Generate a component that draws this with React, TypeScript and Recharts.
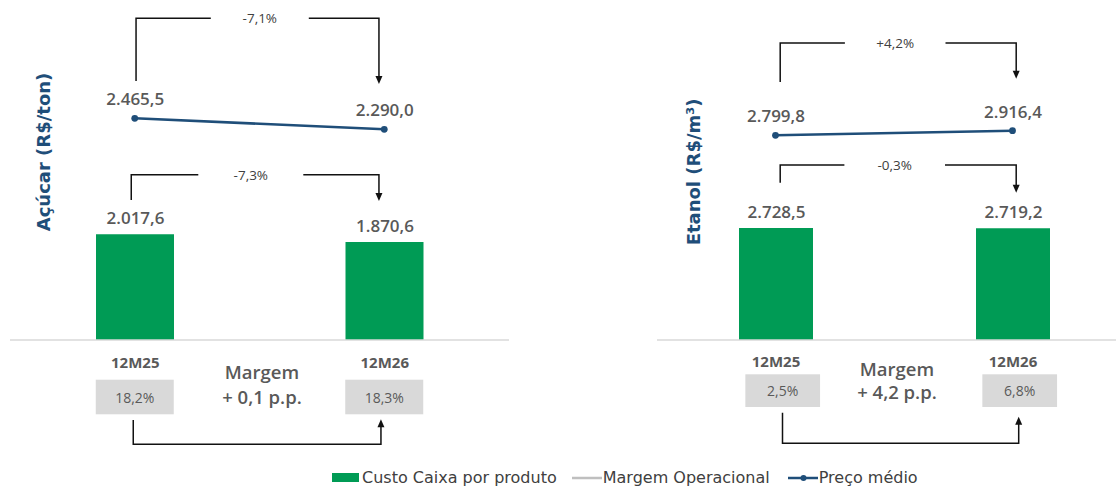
import React from 'react';
import { ComposedChart, Bar, Line, XAxis, YAxis, LabelList } from 'recharts';

const categories = ['12M25', '12M26'];
const acucarCusto = [2017.6, 1870.6];
const acucarPreco = [2465.5, 2290.0];
const acucarMargem = [18.2, 18.3];
const acucarVariacao = ['-7,1%', '-7,3%', '+ 0,1 p.p.']; // preço, custo, margem
const etanolCusto = [2728.5, 2719.2];
const etanolPreco = [2799.8, 2916.4];
const etanolMargem = [2.5, 6.8];
const etanolVariacao = ['+4,2%', '-0,3%', '+ 4,2 p.p.'];
const seriesNames = ['Custo Caixa por produto', 'Margem Operacional', 'Preço médio'];

const GREEN = '#009B55';
const NAVY = '#1F4E79';
const LABEL = '#595959';
const DARK = '#404040';
const BOX = '#D9D9D9';
const NUM_FONT = '"Open Sans", sans-serif';
const TEXT_FONT = '"DejaVu Sans", sans-serif';

const fmt = (v: number) => {
  const [i, d] = v.toFixed(1).split('.');
  return i.replace(/\B(?=(\d{3})+(?!\d))/g, '.') + ',' + d;
};
const fmtPct = (v: number) => v.toFixed(1).replace('.', ',') + '%';

// annotation geometry per panel (chart-local coordinates)
const acucarGeo = {
  left: 0, width: 558,
  margin: { top: 20, right: 49, left: 10, bottom: 116 },
  barSize: 78, barMax: 6109, priceDomain: [-1070, 4033],
  title: 'Açúcar (R$/ton)', titleX: 43.7, titleY: 152,
  price: { dx0: 1.3, y0: 81, top: 18.3, textDx: 0.3, half: 49, dx1: -5.3, y1: 84 },
  cost: { dx0: -3.5, y0: 200, top: 174.7, textDx: -8.7, half: 52.5, dx1: -5.3, y1: 201 },
  catY: 361.7, boxTop: 379.7, boxH: 34.6, boxW: 78, boxDx: 0,
  margemDx: 2.5, margemY: 371.7, ppY: 396,
  arrow: { dx0: -1.5, y0: 420, bottom: 444.3, dx1: -3.3, y1: 419.3 },
};

const etanolGeo = {
  left: 556, width: 580,
  margin: { top: 20, right: 5, left: 101, bottom: 116 },
  barSize: 74, barMax: 7795, priceDomain: [-2389, 5723],
  title: 'Etanol (R$/m³)', titleX: 694.3, titleY: 171.7,
  price: { dx0: 4.7, y0: 82, top: 43, textDx: 1.2, half: 50.3, dx1: 3.7, y1: 78.7 },
  cost: { dx0: 4.7, y0: 182.7, top: 165, textDx: 0.7, half: 50.3, dx1: 3.7, y1: 192.7 },
  catY: 361, boxTop: 374.3, boxH: 32.7, boxW: 74.7, boxDx: 7.2,
  margemDx: 3, margemY: 368.3, ppY: 391.7,
  arrow: { dx0: 7, y0: 412.7, bottom: 443.3, dx1: 6.2, y1: 416.7 },
};

type Geo = typeof acucarGeo;

const Bracket = ({ x0, x1, b, label }: any) => {
  const mid = (x0 + x1) / 2 + b.textDx;
  const vx = x0 + b.dx0;
  const ax = x1 + b.dx1;
  return (
    <g>
      <path
        d={`M${vx},${b.y0}V${b.top}H${mid - b.half}M${mid + b.half},${b.top}H${ax}V${b.y1 - 7}`}
        stroke="#111" strokeWidth={1.5} fill="none"
      />
      <polygon points={`${ax - 3.5},${b.y1 - 8} ${ax + 3.5},${b.y1 - 8} ${ax},${b.y1}`} fill="#111" />
      <text x={mid} y={b.top} textAnchor="middle" dominantBaseline="central"
        fontFamily={NUM_FONT} fontSize={13.5} fill={DARK}>
        {label}
      </text>
    </g>
  );
};

const makePriceDot = (geo: Geo, label: string) => (props: any) => {
  const { cx, cy, index, payload, points } = props;
  return (
    <g key={`pd-${index}`}>
      <circle cx={cx} cy={cy} r={3.4} fill={NAVY} />
      <text x={cx + 0.5} y={cy - 19.5} textAnchor="middle" dominantBaseline="central"
        fontFamily={NUM_FONT} fontWeight={600} fontSize={17} fill={LABEL}>
        {fmt(payload.preco)}
      </text>
      {index === 1 && points && points.length > 1 && (
        <Bracket x0={points[0].x} x1={points[1].x} b={geo.price} label={label} />
      )}
    </g>
  );
};

// invisible helper over the bar tops: draws the cost bracket and the margin arrow
const makeCostDot = (geo: Geo, labels: string[]) => (props: any) => {
  const { index, points } = props;
  if (index !== 1 || !points || points.length < 2) return <g key={`cd-${index}`} />;
  const x0 = points[0].x;
  const x1 = points[1].x;
  const mid = (x0 + x1) / 2 + geo.margemDx;
  const a = geo.arrow;
  const ax0 = x0 + a.dx0;
  const ax1 = x1 + a.dx1;
  return (
    <g key={`cd-${index}`}>
      <Bracket x0={x0} x1={x1} b={geo.cost} label={labels[1]} />
      <text x={mid} y={geo.margemY} textAnchor="middle" dominantBaseline="central"
        fontFamily={NUM_FONT} fontWeight={600} fontSize={18.5} fill={LABEL}>
        Margem
      </text>
      <text x={mid} y={geo.ppY} textAnchor="middle" dominantBaseline="central"
        fontFamily={NUM_FONT} fontWeight={600} fontSize={18.5} fill={LABEL}>
        {labels[2]}
      </text>
      <path d={`M${ax0},${a.y0}V${a.bottom}H${ax1}V${a.y1 + 7}`} stroke="#111" strokeWidth={1.5} fill="none" />
      <polygon points={`${ax1 - 3.5},${a.y1 + 8} ${ax1 + 3.5},${a.y1 + 8} ${ax1},${a.y1}`} fill="#111" />
    </g>
  );
};

const makeTick = (geo: Geo, margens: number[]) => (props: any) => {
  const { x, index, payload } = props;
  const bx = x + geo.boxDx;
  return (
    <g key={`t-${index}`}>
      <text x={x + 0.5} y={geo.catY} textAnchor="middle" dominantBaseline="central"
        fontFamily={NUM_FONT} fontWeight={700} fontSize={15} fill={LABEL}>
        {payload.value}
      </text>
      <rect x={bx - geo.boxW / 2} y={geo.boxTop} width={geo.boxW} height={geo.boxH} fill={BOX} />
      <text x={bx} y={geo.boxTop + geo.boxH / 2} textAnchor="middle" dominantBaseline="central"
        fontFamily={NUM_FONT} fontSize={14} fill={LABEL}>
        {fmtPct(margens[index])}
      </text>
    </g>
  );
};

const Panel = ({ geo, custo, preco, margem, variacao }: {
  geo: Geo; custo: number[]; preco: number[]; margem: number[]; variacao: string[];
}) => {
  const data = categories.map((name, i) => ({ name, custo: custo[i], preco: preco[i] }));
  return (
    <div style={{ position: 'absolute', left: geo.left, top: 0 }}>
      <ComposedChart width={geo.width} height={486} data={data} margin={geo.margin}>
        <XAxis dataKey="name" xAxisId={0} height={30} interval={0} tickLine={false}
          axisLine={{ stroke: '#D9D9D9', strokeWidth: 1.5 }}
          tick={makeTick(geo, margem)} />
        <YAxis yAxisId="bar" hide domain={[0, geo.barMax]} />
        <YAxis yAxisId="preco" hide domain={geo.priceDomain as [number, number]} />
        <Bar dataKey="custo" yAxisId="bar" fill={GREEN} barSize={geo.barSize} isAnimationActive={false}>
          <LabelList dataKey="custo" content={(p: any) => (
            <text x={Number(p.x) + Number(p.width) / 2 + 0.5} y={Number(p.y) - 16.5}
              textAnchor="middle" dominantBaseline="central"
              fontFamily={NUM_FONT} fontWeight={600} fontSize={17} fill={LABEL}>
              {fmt(Number(p.value))}
            </text>
          )} />
        </Bar>
        <Line dataKey="preco" yAxisId="preco" stroke={NAVY} strokeWidth={2.6}
          dot={makePriceDot(geo, variacao[0])} activeDot={false} isAnimationActive={false} />
        <Line dataKey="custo" yAxisId="bar" stroke="none" legendType="none"
          dot={makeCostDot(geo, variacao)} activeDot={false} isAnimationActive={false} />
      </ComposedChart>
      <div style={{
        position: 'absolute', left: geo.titleX - geo.left, top: geo.titleY,
        transform: 'translate(-50%, -50%) rotate(-90deg)', whiteSpace: 'nowrap',
        fontFamily: TEXT_FONT, fontWeight: 700, fontSize: 18, color: NAVY, lineHeight: '20px',
      }}>
        {geo.title}
      </div>
    </div>
  );
};

const Legend = () => (
  <div style={{
    position: 'absolute', left: 332, top: 467.5, height: 20, display: 'flex', alignItems: 'center',
    fontFamily: TEXT_FONT, fontSize: 16, color: DARK, whiteSpace: 'nowrap',
  }}>
    <span style={{ display: 'inline-block', width: 27, height: 9.5, background: GREEN, marginRight: 3 }} />
    <span>{seriesNames[0]}</span>
    <svg width={30} height={10} style={{ marginLeft: 15, marginRight: 1 }}>
      <line x1={0} y1={5} x2={30} y2={5} stroke="#BFBFBF" strokeWidth={2.5} />
    </svg>
    <span>{seriesNames[1]}</span>
    <svg width={30} height={10} style={{ marginLeft: 18, marginRight: 1 }}>
      <line x1={0} y1={5} x2={30} y2={5} stroke={NAVY} strokeWidth={2.5} />
      <circle cx={15.5} cy={5} r={3} fill={NAVY} />
    </svg>
    <span>{seriesNames[2]}</span>
  </div>
);

export default function App() {
  return (
    <div style={{ position: 'absolute', left: 0, top: 0, width: 1116, height: 486, overflow: 'hidden', background: '#fff' }}>
      <Panel geo={acucarGeo} custo={acucarCusto} preco={acucarPreco} margem={acucarMargem} variacao={acucarVariacao} />
      <Panel geo={etanolGeo} custo={etanolCusto} preco={etanolPreco} margem={etanolMargem} variacao={etanolVariacao} />
      <Legend />
    </div>
  );
}
